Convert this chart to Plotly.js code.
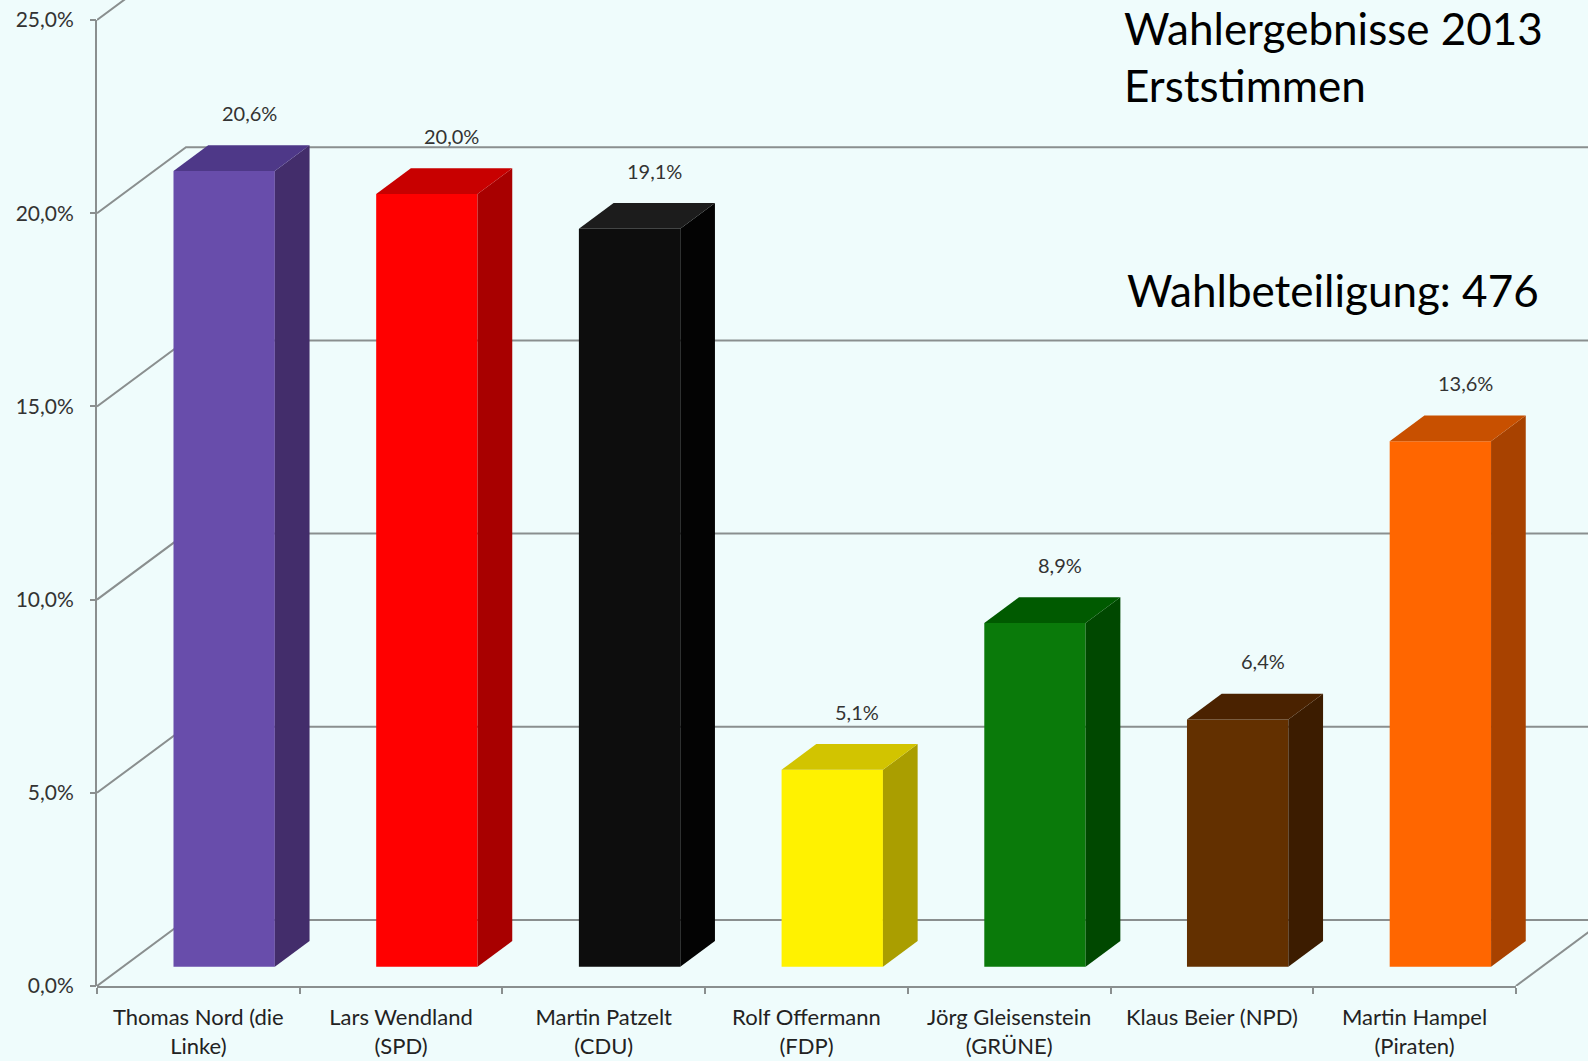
<!DOCTYPE html>
<html><head><meta charset="utf-8">
<script src="https://cdn.plot.ly/plotly-3.0.1.min.js"></script>
<style>html,body{margin:0;padding:0;background:#effcfc;}</style>
</head><body><div id="chart" style="width:1588px;height:1061px;"></div>
<script>
// ---- data ----
const candidates = ['Thomas Nord (die<br>Linke)', 'Lars Wendland<br>(SPD)', 'Martin Patzelt<br>(CDU)',
  'Rolf Offermann<br>(FDP)', 'Jörg Gleisenstein<br>(GRÜNE)', 'Klaus Beier (NPD)', 'Martin Hampel<br>(Piraten)'];
const shares = [20.6, 20.0, 19.1, 5.1, 8.9, 6.4, 13.6];
const yTicks = [0, 5, 10, 15, 20, 25];
const yTickLabels = ['0,0%', '5,0%', '10,0%', '15,0%', '20,0%', '25,0%'];
const titleText = 'Wahlergebnisse 2013<br>Erststimmen';
const turnoutText = 'Wahlbeteiligung: 476';

// ---- styles ----
const frontColors = ['#684dab', '#ff0000', '#0d0d0d', '#fff200', '#0a7a0a', '#633000', '#ff6600'];
const topColors   = ['#4e3888', '#c80000', '#1c1c1c', '#d2c400', '#005a00', '#4a2200', '#c85000'];
const sideColors  = ['#432d6b', '#a80000', '#030303', '#aa9e00', '#004800', '#3c1c00', '#a84200'];
const gridColor = '#8a8f8f';
const bg = '#effcfc';
const FONT = 'Lato, "Open Sans", sans-serif';

// ---- geometry (pixel scale of the front plane) ----
const W = 1588, H = 1061, L = 97, B = 75;
const pxCat = 202.7, pxPct = 38.64;
const plotW = W - L, plotH = H - B;
const XMIN = -0.5, XMAX = XMIN + plotW / pxCat;
const YMAX = plotH / pxPct;
const DX = 89 / pxCat, DY = 66 / pxPct;   // full depth of the 3D box in data units
const F = 0.29, D = 0.39, BW = 0.5;        // bar front depth, bar depth, bar width
const idx = shares.map((_, i) => i);
const nCat = candidates.length;

// back-wall grid + left-wall diagonals, drawn beneath the bars
const shapes = yTicks.map(v => ({
  type: 'path', xref: 'x', yref: 'y', layer: 'below',
  path: `M ${XMIN},${v} L ${XMIN + DX},${v + DY} L ${XMAX},${v + DY}`,
  line: {color: gridColor, width: 2}
}));
shapes.push({type: 'line', xref: 'x', yref: 'y', layer: 'below',
  x0: nCat - 0.5, y0: 0, x1: nCat - 0.5 + DX, y1: DY, line: {color: gridColor, width: 2}});

const traces = [];
// bar front faces
traces.push({type: 'bar', x: idx.map(i => i + F * DX), y: shares, base: F * DY, width: BW,
  marker: {color: frontColors, line: {width: 0}}, hoverinfo: 'skip', showlegend: false});

// side and top faces
shares.forEach((v, i) => {
  const xl = i + F * DX - BW / 2, xr = i + F * DX + BW / 2;
  const b0 = F * DY, t0 = F * DY + v, ddx = D * DX, ddy = D * DY;
  traces.push({x: [xr, xr + ddx, xr + ddx, xr, xr], y: [b0, b0 + ddy, t0 + ddy, t0, b0],
    mode: 'lines', fill: 'toself', fillcolor: sideColors[i], line: {width: 0, color: sideColors[i]},
    hoverinfo: 'skip', showlegend: false});
  traces.push({x: [xl, xr, xr + ddx, xl + ddx, xl], y: [t0, t0, t0 + ddy, t0 + ddy, t0],
    mode: 'lines', fill: 'toself', fillcolor: topColors[i], line: {width: 0, color: topColors[i]},
    hoverinfo: 'skip', showlegend: false});
});

// dummy traces for the axis-line subplots
traces.push({x: [null], y: [null], xaxis: 'x2', yaxis: 'y', mode: 'markers', showlegend: false, hoverinfo: 'skip'});
traces.push({x: [null], y: [null], xaxis: 'x', yaxis: 'y2', mode: 'markers', showlegend: false, hoverinfo: 'skip'});

const annotations = shares.map((v, i) => ({
  x: i + 0.25, y: v + 2.0, xref: 'x', yref: 'y', showarrow: false,
  text: v.toFixed(1).replace('.', ',') + '%', font: {family: FONT, size: 20, color: '#333'}
}));
annotations.push({xref: 'paper', yref: 'paper', x: (1122 - L) / plotW, y: 1, xanchor: 'left', yanchor: 'top',
  align: 'left', showarrow: false, text: titleText, font: {family: FONT, size: 44, color: '#000'}});
annotations.push({xref: 'paper', yref: 'paper', x: (1125 - L) / plotW, y: (plotH - 262) / plotH, xanchor: 'left', yanchor: 'top',
  align: 'left', showarrow: false, text: turnoutText, font: {family: FONT, size: 44, color: '#000'}});

const layout = {
  width: W, height: H,
  margin: {l: L, r: 0, t: 0, b: B, pad: 0},
  paper_bgcolor: bg, plot_bgcolor: 'rgba(0,0,0,0)',
  showlegend: false,
  barmode: 'overlay',
  xaxis: {range: [XMIN, XMAX], domain: [0, 1], anchor: 'y', tickvals: idx, ticktext: candidates,
    ticks: '', showline: false, showgrid: false, zeroline: false, ticklabelstandoff: 16,
    tickfont: {family: FONT, size: 22, color: '#222'}},
  xaxis2: {range: [-0.5, nCat - 0.5], domain: [0, nCat * pxCat / plotW], anchor: 'y',
    tickvals: idx.concat([nCat]).map(i => i - 0.5), showticklabels: false, ticks: 'outside', ticklen: 6,
    tickwidth: 2, tickcolor: gridColor, showline: true, linecolor: gridColor, linewidth: 2,
    showgrid: false, zeroline: false},
  yaxis: {range: [0, YMAX], domain: [0, 1], anchor: 'x', tickvals: yTicks, ticktext: yTickLabels,
    ticks: 'outside', ticklen: 6, tickwidth: 2, tickcolor: gridColor, ticklabelstandoff: 12,
    showline: false, showgrid: false, zeroline: false,
    tickfont: {family: FONT, size: 21, color: '#333'}},
  yaxis2: {range: [0, yTicks[yTicks.length - 1]], domain: [0, yTicks[yTicks.length - 1] / YMAX], anchor: 'x',
    showticklabels: false, ticks: '', showline: true, linecolor: gridColor, linewidth: 2,
    showgrid: false, zeroline: false},
  shapes: shapes,
  annotations: annotations
};

Plotly.newPlot('chart', traces, layout, {staticPlot: true, displayModeBar: false});
</script></body></html>
